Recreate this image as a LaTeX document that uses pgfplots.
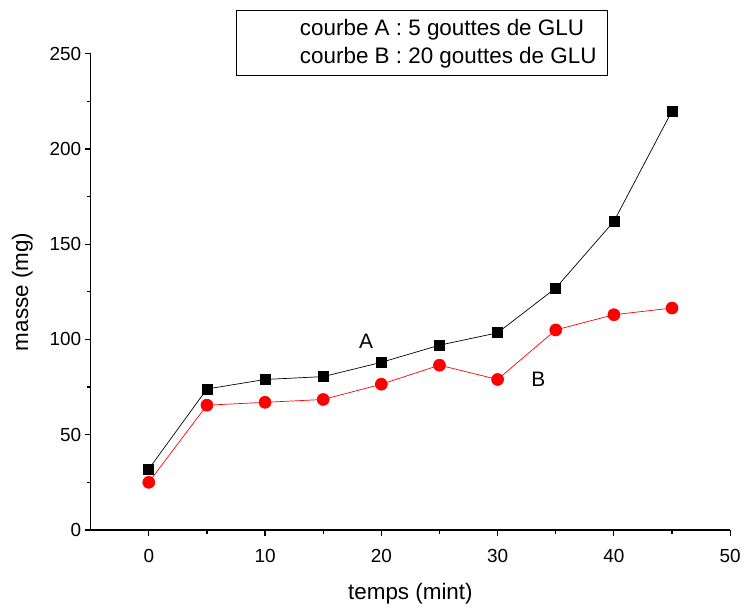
\documentclass[border=0pt]{standalone}
\usepackage{pgfplots}
\pgfplotsset{compat=1.18}
\usepackage{fontspec}
\setmainfont{Liberation Sans}
\begin{document}
\begin{tikzpicture}
\begin{axis}[
  scale only axis,
  width=642bp, height=478bp,
  xmin=-5, xmax=50, ymin=0, ymax=250,
  axis x line*=bottom, axis y line*=left,
  axis line style={-, line width=1.2pt},
  xtick={0,10,...,50}, ytick={0,50,...,250},
  minor x tick num=1, minor y tick num=1,
  tick align=outside,
  major tick length=6bp, minor tick length=4bp,
  every tick/.style={black, line width=1.2pt},
  /pgf/number format/assume math mode=true,
  ticklabel style={font=\fontsize{19bp}{22bp}\selectfont},
  xticklabel style={yshift=-10bp},
  xlabel={temps (mint)}, ylabel={masse (mg)},
  label style={font=\fontsize{22.5bp}{26bp}\selectfont},
  xlabel style={yshift=-14bp},
  ylabel style={yshift=10bp},
  clip=false,
]
\addplot[black, line width=0.7pt, mark=square*, mark size=5bp, mark options={solid, fill=black}]
  coordinates {(0,32) (5,74) (10,79) (15,80.5) (20,88) (25,97) (30,103.5) (35,127) (40,162) (45,220)};
\addplot[red, line width=0.7pt, mark=*, mark size=6bp, mark options={solid, fill=red}]
  coordinates {(0,25) (5,65.5) (10,67) (15,68.5) (20,76.5) (25,86.5) (30,79) (35,105) (40,113) (45,116.5)};
\node[font=\fontsize{21bp}{25bp}\selectfont] at (axis cs:18.7,98.8) {A};
\node[font=\fontsize{21bp}{25bp}\selectfont] at (axis cs:33.5,79) {B};
\draw[line width=0.8pt] (rel axis cs:0.2274,1.092) rectangle (rel axis cs:0.8084,0.954);
\node[anchor=base west, inner sep=0pt, font=\fontsize{22.5bp}{26bp}\selectfont] at (rel axis cs:0.327,1.0377) {courbe A : 5 gouttes de GLU};
\node[anchor=base west, inner sep=0pt, font=\fontsize{22.5bp}{26bp}\selectfont] at (rel axis cs:0.327,0.9791) {courbe B : 20 gouttes de GLU};
\end{axis}
\path ([xshift=-91bp,yshift=-74bp]current axis.south west) rectangle ([xshift=11bp,yshift=54bp]current axis.north east);
\end{tikzpicture}
\end{document}
